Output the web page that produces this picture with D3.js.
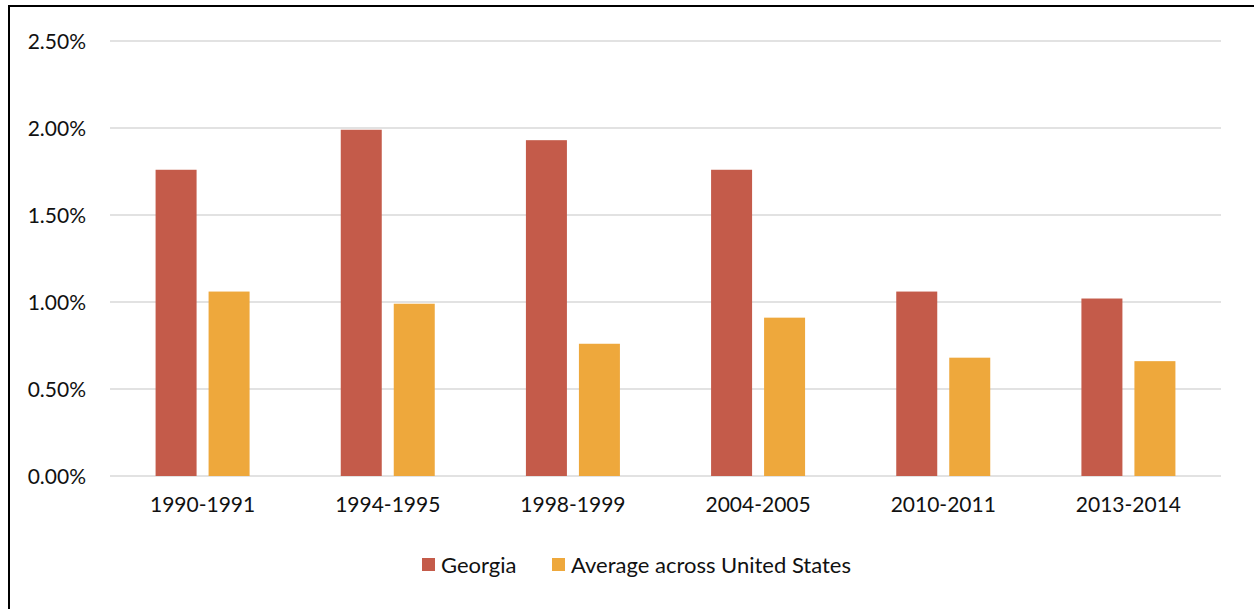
<!DOCTYPE html>
<html>
<head>
<meta charset="utf-8">
<script src="https://cdn.jsdelivr.net/npm/d3@7"></script>
<style>
  body { margin: 0; background: #fff; }
  text { font-family: Lato, "Open Sans", sans-serif; fill: #111; }
</style>
</head>
<body>
<div id="chart"></div>
<script>
// data
var years = ['1990-1991', '1994-1995', '1998-1999', '2004-2005', '2010-2011', '2013-2014'];
var georgia = [1.76, 1.99, 1.93, 1.76, 1.06, 1.02];
var usAverage = [1.06, 0.99, 0.76, 0.91, 0.68, 0.66];
var seriesNames = ['Georgia', 'Average across United States'];
var colors = ['#C45B4A', '#EEA83C'];
var yTicks = [0, 0.5, 1, 1.5, 2, 2.5];

var W = 1254, H = 609;
var margin = { top: 41, right: 33, bottom: 133, left: 110 },
  width = W - margin.left - margin.right,
  height = H - margin.top - margin.bottom;

var svg = d3.select('#chart')
  .append('svg')
  .attr('width', W)
  .attr('height', H);

// frame: left and top edges only show in the picture
svg.append('line').attr('x1', 9).attr('x2', 9).attr('y1', 5).attr('y2', H)
  .attr('stroke', '#000').attr('stroke-width', 2);
svg.append('line').attr('x1', 8).attr('x2', W).attr('y1', 6).attr('y2', 6)
  .attr('stroke', '#000').attr('stroke-width', 2);

var g = svg.append('g')
  .attr('transform', 'translate(' + margin.left + ',' + margin.top + ')');

var x = d3.scaleBand().domain(years).range([0, width]);
var y = d3.scaleLinear().domain([0, 2.5]).range([height, 0]);

// gridlines
g.selectAll('.grid')
  .data(yTicks)
  .enter()
  .append('line')
  .attr('x1', 0)
  .attr('x2', width)
  .attr('y1', function(d) { return y(d); })
  .attr('y2', function(d) { return y(d); })
  .attr('stroke', '#d9d9d9')
  .attr('stroke-width', 1.5);

// y axis labels
var yAxis = g.append('g')
  .call(d3.axisLeft(y).tickValues(yTicks).tickSize(0).tickPadding(24)
    .tickFormat(function(d) { return d.toFixed(2) + '%'; }));
yAxis.select('.domain').remove();
yAxis.selectAll('text').style('font-size', '21px').attr('dy', '0.35em');

// x axis labels
var xAxis = g.append('g')
  .attr('transform', 'translate(0,' + height + ')')
  .call(d3.axisBottom(x).tickSize(0).tickPadding(21));
xAxis.select('.domain').remove();
xAxis.selectAll('text').style('font-size', '21px');

var barW = 41, gap = 12;
var series = [georgia, usAverage];

series.forEach(function(vals, si) {
  g.selectAll('.bar' + si)
    .data(vals)
    .enter()
    .append('rect')
    .attr('x', function(d, i) {
      var c = x(years[i]) + x.bandwidth() / 2;
      return si === 0 ? c - gap / 2 - barW : c + gap / 2;
    })
    .attr('y', function(d) { return y(d); })
    .attr('width', barW)
    .attr('height', function(d) { return height - y(d); })
    .attr('fill', colors[si]);
});

// legend
var legend = svg.append('g').attr('transform', 'translate(422,558)');
var legX = [0, 130];
seriesNames.forEach(function(name, i) {
  var item = legend.append('g').attr('transform', 'translate(' + legX[i] + ',0)');
  item.append('rect').attr('width', 13).attr('height', 13).attr('fill', colors[i]);
  item.append('text').attr('x', 19).attr('y', 15).style('font-size', '22px').text(name);
});
</script>
</body>
</html>
